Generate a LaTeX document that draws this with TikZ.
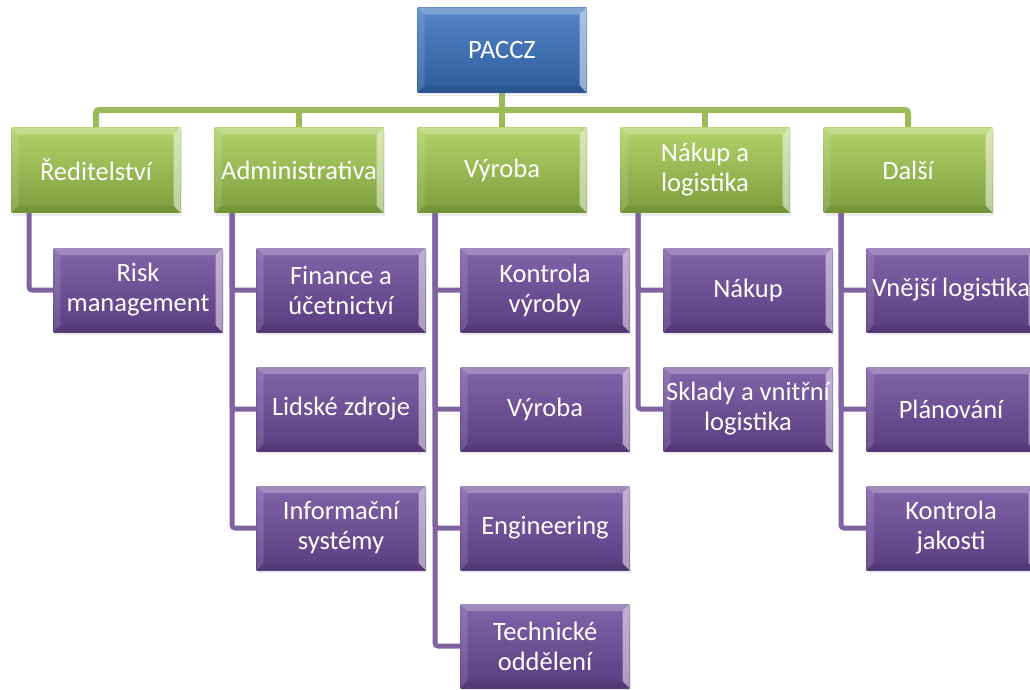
\documentclass[tikz,border=0pt]{standalone}
\usepackage{fontspec}
\setmainfont{Carlito}
\usetikzlibrary{calc, backgrounds, shadows}
\definecolor{bluetop}{RGB}{84,134,200}
\definecolor{bluebot}{RGB}{44,92,156}
\definecolor{greentop}{RGB}{178,210,106}
\definecolor{greenbot}{RGB}{124,158,60}
\definecolor{purpletop}{RGB}{130,100,170}
\definecolor{purplebot}{RGB}{90,60,128}
\definecolor{greenline}{RGB}{155,187,89}
\definecolor{purpleline}{RGB}{128,100,162}

\begin{document}
\begin{tikzpicture}[x=1pt, y=-1pt]
	% bevelled box in the office look
	\tikzset{bevel/.style={path picture={
		\fill[white, opacity=0.25] (path picture bounding box.north west) -- (path picture bounding box.north east)
			-- ([shift={(-7pt,-7pt)}]path picture bounding box.north east) -- ([shift={(7pt,-7pt)}]path picture bounding box.north west) -- cycle;
		\fill[white, opacity=0.12] (path picture bounding box.north west) -- (path picture bounding box.south west)
			-- ([shift={(7pt,7pt)}]path picture bounding box.south west) -- ([shift={(7pt,-7pt)}]path picture bounding box.north west) -- cycle;
		\fill[white, opacity=0.5] (path picture bounding box.north east) -- (path picture bounding box.south east)
			-- ([shift={(-7pt,7pt)}]path picture bounding box.south east) -- ([shift={(-7pt,-7pt)}]path picture bounding box.north east) -- cycle;
		\fill[black, opacity=0.07] (path picture bounding box.south west) -- (path picture bounding box.south east)
			-- ([shift={(-7pt,7pt)}]path picture bounding box.south east) -- ([shift={(7pt,7pt)}]path picture bounding box.south west) -- cycle;
	}}}
	\tikzstyle{unit} = [rectangle, bevel, text=white, align=center, inner sep=0pt,
	minimum width=169pt, minimum height=85pt, font=\fontsize{26.5}{30}\selectfont,
	drop shadow={opacity=0.15, shadow xshift=1pt, shadow yshift=-3pt}]
	\tikzstyle{head} = [unit, top color=bluetop, bottom color=bluebot]
	\tikzstyle{dept} = [unit, top color=greentop, bottom color=greenbot]
	\tikzstyle{team} = [unit, top color=purpletop, bottom color=purplebot, minimum height=84pt]
	\tikzstyle{greenlink} = [line width=6pt, greenline, rounded corners=3pt]
	\tikzstyle{purplelink} = [line width=5pt, purpleline, rounded corners=3pt]

	\useasboundingbox (0,0) rectangle (1030,689);
	\clip (0,0) rectangle (1030,689);

	\node[head] at (502,50) (paccz) {PACCZ};

	\node[dept] at (96,170) (reditel) {Ředitelství};
	\node[dept] at (299,170) (admin) {Administrativa};
	\node[dept] at (502,170) (vyroba) {Výroba};
	\node[dept] at (705,170) (nakup) {Nákup a\\logistika};
	\node[dept] at (908,170) (dalsi) {Další};

	\node[team] at (138,290) (risk) {Risk\\management};

	\node[team] at (341,290) (finance) {Finance a\\účetnictví};
	\node[team] at (341,409) (lidske) {Lidské zdroje};
	\node[team] at (341,528) (info) {Informační\\systémy};

	\node[team] at (545,290) (kontrola) {Kontrola\\výroby};
	\node[team] at (545,409) (vyrobateam) {Výroba};
	\node[team] at (545,528) (engineering) {Engineering};
	\node[team] at (545,646) (technicke) {Technické\\oddělení};

	\node[team] at (748,290) (nakupteam) {Nákup};
	\node[team] at (748,409) (sklady) {Sklady a vnitřní\\logistika};

	\node[team] at (951,290) (vnejsi) {Vnější logistika};
	\node[team] at (951,409) (planovani) {Plánování};
	\node[team] at (951,528) (jakost) {Kontrola\\jakosti};

	\begin{scope}[on background layer]
		\coordinate (bar) at (502,110);
		\draw[greenlink] (reditel.north) |- (bar) -| (dalsi.north);
		\draw[greenlink] (paccz.south) -- (bar);
		\draw[greenlink] (admin.north) -- (admin.north |- bar);
		\draw[greenlink] (vyroba.north) -- (bar);
		\draw[greenlink] (nakup.north) -- (nakup.north |- bar);

		\coordinate (reditelT) at ([xshift=-67pt]reditel.south);
		\coordinate (adminT) at ([xshift=-67pt]admin.south);
		\coordinate (vyrobaT) at ([xshift=-67pt]vyroba.south);
		\coordinate (nakupT) at ([xshift=-67pt]nakup.south);
		\coordinate (dalsiT) at ([xshift=-67pt]dalsi.south);

		\draw[purplelink] (risk.west) -| (reditelT);
		\draw[purplelink] (info.west) -| (adminT);
		\draw[purplelink] (finance.west) -| (adminT);
		\draw[purplelink] (lidske.west) -| (adminT);
		\draw[purplelink] (technicke.west) -| (vyrobaT);
		\draw[purplelink] (kontrola.west) -| (vyrobaT);
		\draw[purplelink] (vyrobateam.west) -| (vyrobaT);
		\draw[purplelink] (engineering.west) -| (vyrobaT);
		\draw[purplelink] (sklady.west) -| (nakupT);
		\draw[purplelink] (nakupteam.west) -| (nakupT);
		\draw[purplelink] (jakost.west) -| (dalsiT);
		\draw[purplelink] (vnejsi.west) -| (dalsiT);
		\draw[purplelink] (planovani.west) -| (dalsiT);
	\end{scope}
\end{tikzpicture}
\end{document}
